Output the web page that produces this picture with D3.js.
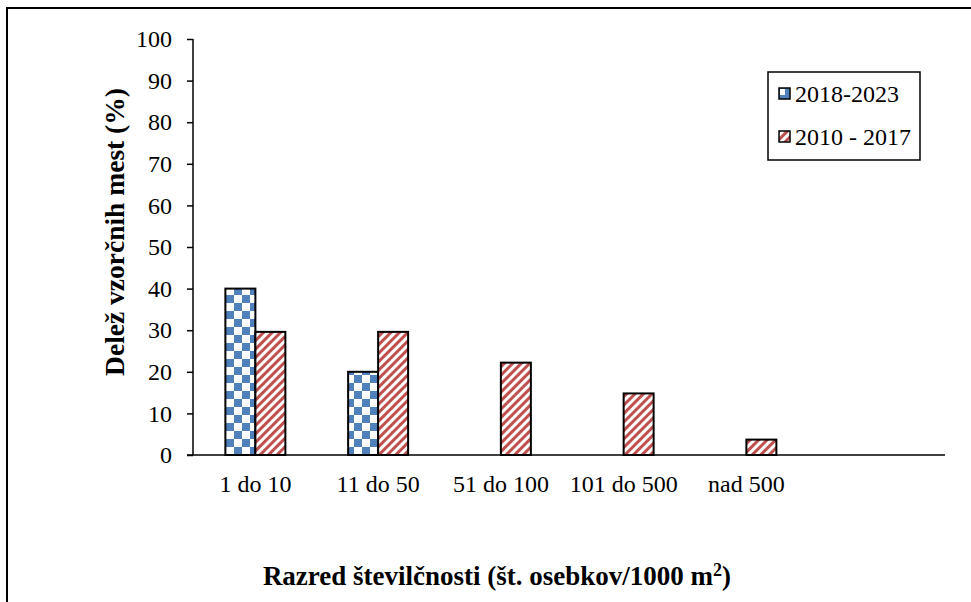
<!DOCTYPE html>
<html><head><meta charset="utf-8">
<script src="https://cdn.jsdelivr.net/npm/d3@7/dist/d3.min.js"></script>
<style>body{margin:0;background:#fff}svg{display:block}text{font-family:"Liberation Serif","Times New Roman",serif}</style>
</head><body>
<svg id="c" width="971" height="602"></svg>
<script>
const categories = ["1 do 10", "11 do 50", "51 do 100", "101 do 500", "nad 500"];
const series = ["2018-2023", "2010 - 2017"];
const values2018 = [40, 20, 0, 0, 0];
const values2010 = [29.6, 29.6, 22.2, 14.8, 3.7];
const yTicks = [0, 10, 20, 30, 40, 50, 60, 70, 80, 90, 100];

const svg = d3.select("#c");
const defs = svg.append("defs");
const pc = defs.append("pattern").attr("id","checker").attr("patternUnits","userSpaceOnUse")
  .attr("width",16).attr("height",16).attr("x",226).attr("y",455);
pc.append("rect").attr("width",16).attr("height",16).attr("fill","#fff");
pc.append("rect").attr("width",8).attr("height",8).attr("fill","#4F81BD");
pc.append("rect").attr("x",8).attr("y",8).attr("width",8).attr("height",8).attr("fill","#4F81BD");
const ps = defs.append("pattern").attr("id","stripes").attr("patternUnits","userSpaceOnUse")
  .attr("width",6).attr("height",6).attr("patternTransform","rotate(45)");
ps.append("rect").attr("width",6).attr("height",6).attr("fill","#fff");
ps.append("rect").attr("width",3).attr("height",6).attr("fill","#C0504D");

svg.append("rect").attr("x",7).attr("y",8).attr("width",1000).attr("height",700)
  .attr("fill","none").attr("stroke","#000").attr("stroke-width",2);

const x0 = 194, bandW = 122.75;
const x = d3.scaleBand().domain(categories).range([x0, x0 + bandW*categories.length]).padding(0);
const y = d3.scaleLinear().domain([0,100]).range([455,39]);
const barW = 30;
const FONT = "'Liberation Serif','Times New Roman',serif";

const yAxis = svg.append("g").attr("transform","translate(193,0)")
  .call(d3.axisLeft(y).tickValues(yTicks).tickSize(6).tickPadding(15).tickFormat(d3.format("d")));
yAxis.select(".domain").attr("stroke","#000").attr("stroke-width",1.5).attr("d","M0,39V455");
yAxis.selectAll(".tick line").attr("stroke","#000").attr("stroke-width",1.5);
yAxis.selectAll(".tick text").attr("font-size",24).attr("fill","#000").attr("font-family",FONT);

const cx = d => x(d) + x.bandwidth()/2;
svg.append("g").selectAll("rect").data(categories.filter((c,i)=>values2018[i]>0)).join("rect")
  .attr("x", d => cx(d) - barW).attr("width", barW)
  .attr("y", d => y(values2018[categories.indexOf(d)]))
  .attr("height", d => y(0) - y(values2018[categories.indexOf(d)]))
  .attr("fill","url(#checker)").attr("stroke","#000").attr("stroke-width",2);
svg.append("g").selectAll("rect").data(categories).join("rect")
  .attr("x", d => cx(d)).attr("width", barW)
  .attr("y", (d,i) => y(values2010[i]))
  .attr("height", (d,i) => y(0) - y(values2010[i]))
  .attr("fill","url(#stripes)").attr("stroke","#000").attr("stroke-width",2);

const xAxis = svg.append("g").attr("transform","translate(0,455)")
  .call(d3.axisBottom(x).tickSize(0).tickPadding(20));
xAxis.select(".domain").attr("stroke","#000").attr("stroke-width",1.5).attr("d","M187,0H945");
xAxis.selectAll(".tick text").attr("font-size",24).attr("fill","#000").attr("font-family",FONT);

svg.append("text").attr("transform","translate(124,232) rotate(-90)")
  .attr("text-anchor","middle").attr("font-size",27.5).attr("font-weight","bold")
  .text("Delež vzorčnih mest (%)");
const xt = svg.append("text").attr("x",497).attr("y",585).attr("text-anchor","middle")
  .attr("font-size",27).attr("font-weight","bold");
xt.append("tspan").text("Razred številčnosti (št. osebkov/1000 m");
xt.append("tspan").attr("dy",-9).attr("font-size",18).text("2");
xt.append("tspan").attr("dy",9).text(")");

const lg = svg.append("g");
lg.append("rect").attr("x",768).attr("y",72).attr("width",152).attr("height",88)
  .attr("fill","#fff").attr("stroke","#000").attr("stroke-width",1.5);
const fills = ["url(#checker)","url(#stripes)"];
series.forEach((s,i) => {
  const yy = 88 + i*43;
  lg.append("rect").attr("x",779).attr("y",yy).attr("width",11).attr("height",11)
    .attr("fill", i===0 ? "#4F81BD" : fills[i]).attr("stroke","#000").attr("stroke-width",1.5);
  if (i===0) lg.append("rect").attr("x",780).attr("y",yy+1).attr("width",5).attr("height",6).attr("fill","#fff");
  lg.append("text").attr("x",795).attr("y",yy+14).attr("font-size",24).text(s);
});
</script>
</body></html>
